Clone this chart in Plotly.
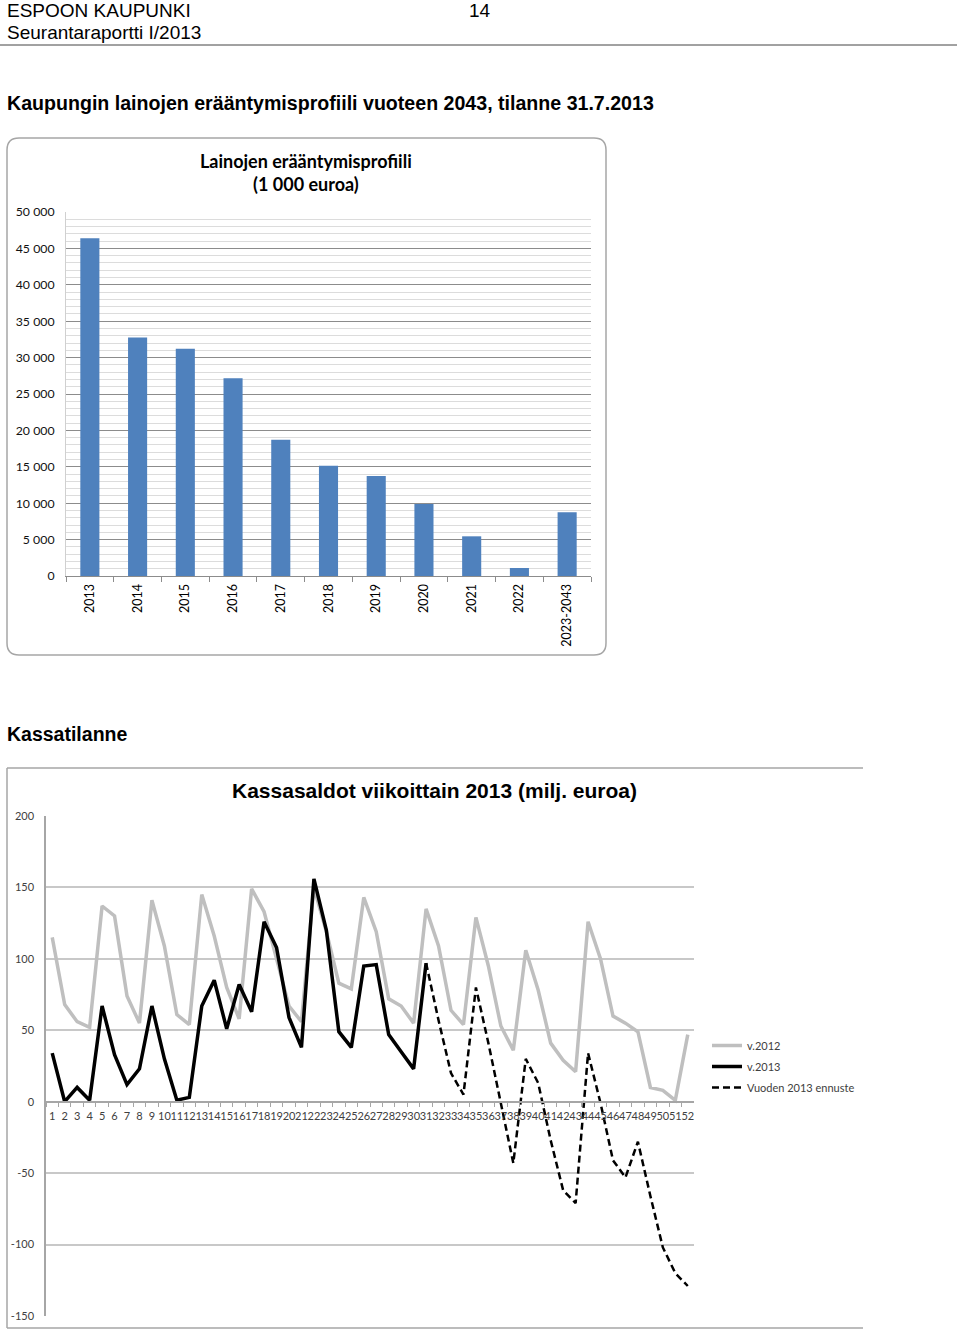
import plotly.graph_objects as go

W, H = 960, 1330


def px(x):
    return x / W


def py(y):
    return 1 - y / H


# ---------------- data: loan maturity profile (1 000 euroa) ----------------
years = ["2013", "2014", "2015", "2016", "2017", "2018", "2019", "2020",
         "2021", "2022", "2023-2043"]
maturities = [46400, 32750, 31200, 27150, 18700, 15150, 13750, 9900,
              5450, 1100, 8750]
loan_tickvals = [0, 5000, 10000, 15000, 20000, 25000, 30000, 35000, 40000,
                 45000, 50000]
loan_ticktext = ["0", "5 000", "10 000", "15 000", "20 000", "25 000",
                 "30 000", "35 000", "40 000", "45 000", "50 000"]

# ---------------- data: weekly cash balances (milj. euroa) ----------------
weeks = [str(i) for i in range(1, 53)]
saldo_2012 = [115, 68, 56, 52, 137, 130, 74, 55, 141, 109, 61, 54, 145, 116,
              80, 58, 149, 133, 100, 67, 56, 150, 119, 83, 79, 143, 119, 72,
              67, 55, 135, 109, 64, 54, 129, 95, 53, 36, 106, 78, 41, 29, 21,
              126, 100, 60, 55, 49, 10, 8, 1, 47]
saldo_2013 = [34, 0, 10, 1, 67, 33, 12, 23, 67, 30, 1, 3, 67, 85, 51, 82, 63,
              126, 108, 59, 38, 156, 120, 49, 38, 95, 96, 47, 35, 23, 97]
ennuste_weeks = weeks[30:]
ennuste_2013 = [97, 57, 20, 5, 80, 41, -1, -43, 30, 13, -27, -62, -71, 34, -1,
                -41, -53, -28, -66, -102, -120, -129]
cash_tickvals = [-150, -100, -50, 0, 50, 100, 150, 200]
cash_ticktext = ["-150", "-100", "-50", "0", "50", "100", "150", "200"]

fig = go.Figure()

fig.add_trace(go.Bar(
    x=years, y=maturities, xaxis="x", yaxis="y", width=0.4,
    marker=dict(color="#4f81bd", line=dict(width=0)), showlegend=False,
))

fig.add_trace(go.Scatter(
    x=weeks, y=saldo_2012, xaxis="x2", yaxis="y2", mode="lines", name="v.2012",
    legendgroup="g1", line=dict(color="#bfbfbf", width=3.5),
))
fig.add_trace(go.Scatter(
    x=weeks[:len(saldo_2013)], y=saldo_2013, xaxis="x2", yaxis="y2",
    mode="lines", name="v.2013", legendgroup="g2",
    line=dict(color="#000000", width=3.5),
))
fig.add_trace(go.Scatter(
    x=ennuste_weeks, y=ennuste_2013, xaxis="x2", yaxis="y2", mode="lines",
    name="Vuoden 2013 ennuste", legendgroup="g3",
    line=dict(color="#000000", width=2.5, dash="7px,4px"),
))

calibri = "Lato, 'Open Sans', sans-serif"
arial = "'Liberation Sans', Arial, sans-serif"

# rounded frame of the top chart
x0, x1, y0, y1 = px(7), px(606), py(138), py(655)
rx, ry = 12 / W, 12 / H
frame_path = (
    f"M {x0 + rx},{y0} L {x1 - rx},{y0} Q {x1},{y0} {x1},{y0 - ry} "
    f"L {x1},{y1 + ry} Q {x1},{y1} {x1 - rx},{y1} L {x0 + rx},{y1} "
    f"Q {x0},{y1} {x0},{y1 + ry} L {x0},{y0 - ry} Q {x0},{y0} {x0 + rx},{y0} Z"
)

shapes = [
    dict(type="line", xref="paper", yref="paper", x0=0, x1=px(957),
         y0=py(45), y1=py(45), line=dict(color="#444444", width=1)),
    dict(type="path", xref="paper", yref="paper", path=frame_path,
         line=dict(color="#a6a6a6", width=1.5)),
    dict(type="line", xref="paper", yref="paper", x0=px(7), x1=px(863),
         y0=py(768), y1=py(768), line=dict(color="#a6a6a6", width=1.5)),
    dict(type="line", xref="paper", yref="paper", x0=px(7), x1=px(7),
         y0=py(768), y1=py(1328), line=dict(color="#a6a6a6", width=1.5)),
    dict(type="line", xref="paper", yref="paper", x0=px(7), x1=px(863),
         y0=py(1328), y1=py(1328), line=dict(color="#a6a6a6", width=1.5)),
]

annotations = [
    dict(text="ESPOON KAUPUNKI", x=px(5), y=py(10), xanchor="left",
         yanchor="middle", font=dict(family=arial, size=19, color="#000")),
    dict(text="14", x=px(480), y=py(10), xanchor="center", yanchor="middle",
         font=dict(family=arial, size=19, color="#000")),
    dict(text="Seurantaraportti I/2013", x=px(5), y=py(33), xanchor="left",
         yanchor="middle", font=dict(family=arial, size=19, color="#000")),
    dict(text="<b>Kaupungin lainojen erääntymisprofiili vuoteen 2043, tilanne 31.7.2013</b>",
         x=px(5), y=py(103), xanchor="left", yanchor="middle",
         font=dict(family=arial, size=19.6, color="#000")),
    dict(text="<b>Lainojen erääntymisprofiili</b>", x=px(306), y=py(161),
         xanchor="center", yanchor="middle",
         font=dict(family=calibri, size=18, color="#000")),
    dict(text="<b>(1 000 euroa)</b>", x=px(306), y=py(184), xanchor="center",
         yanchor="middle", font=dict(family=calibri, size=18, color="#000")),
    dict(text="<b>Kassatilanne</b>", x=px(5), y=py(734), xanchor="left",
         yanchor="middle", font=dict(family=arial, size=19.5, color="#000")),
    dict(text="<b>Kassasaldot viikoittain 2013 (milj. euroa)</b>", x=px(434),
         y=py(790), xanchor="center", yanchor="middle",
         font=dict(family=arial, size=21, color="#000")),
]
for a in annotations:
    a.update(xref="paper", yref="paper", showarrow=False)

fig.update_layout(
    width=W, height=H, autosize=False,
    margin=dict(l=0, r=0, t=0, b=0, pad=0, autoexpand=False),
    paper_bgcolor="white", plot_bgcolor="white",
    shapes=shapes, annotations=annotations,
    xaxis=dict(
        domain=[px(66), px(591)], anchor="y", type="category",
        automargin=False,
        showline=True, linecolor="#8c8c8c", linewidth=1,
        ticks="outside", tickson="boundaries", ticklen=5, tickcolor="#8c8c8c",
        tickangle=-90, showgrid=False, ticklabelstandoff=2,
        tickfont=dict(family=calibri, size=12.5, color="#000"),
    ),
    yaxis=dict(
        domain=[py(576), py(212)], anchor="x", range=[0, 50000],
        automargin=False,
        tickmode="array", tickvals=loan_tickvals, ticktext=loan_ticktext,
        showgrid=True, gridcolor="#8c8c8c", gridwidth=1,
        minor=dict(dtick=1000, tick0=0, showgrid=True, gridcolor="#dcdcdc",
                   gridwidth=1),
        showline=True, linecolor="#d0d0d0", zeroline=False, ticks="",
        ticklabelstandoff=8,
        tickfont=dict(family=calibri, size=12.3, color="#111"),
    ),
    xaxis2=dict(
        domain=[px(46), px(694)], anchor="free", position=py(1102),
        type="category", range=[-0.5, 51.5], automargin=False,
        tickmode="array", tickvals=weeks, ticktext=weeks,
        showline=True, linecolor="#a6a6a6", linewidth=1.5,
        ticks="outside", tickson="boundaries", ticklen=4, tickcolor="#a6a6a6",
        tickangle=0, showgrid=False, ticklabelstandoff=4,
        tickfont=dict(family=calibri, size=11, color="#404040"),
    ),
    yaxis2=dict(
        domain=[py(1316), py(816)], anchor="x2", range=[-150, 200],
        automargin=False,
        tickmode="array", tickvals=cash_tickvals, ticktext=cash_ticktext,
        showgrid=True, gridcolor="#c8c8c8", gridwidth=1.5, zeroline=False,
        showline=True, linecolor="#a6a6a6", linewidth=1.5, ticks="",
        ticklabelstandoff=8,
        tickfont=dict(family=calibri, size=11, color="#404040"),
    ),
    legend=dict(
        x=px(707), y=py(1031), xanchor="left", yanchor="top",
        bgcolor="rgba(0,0,0,0)", borderwidth=0,
        font=dict(family=calibri, size=11, color="#404040"),
        tracegroupgap=2,
    ),
)

fig.write_html("out.html")
